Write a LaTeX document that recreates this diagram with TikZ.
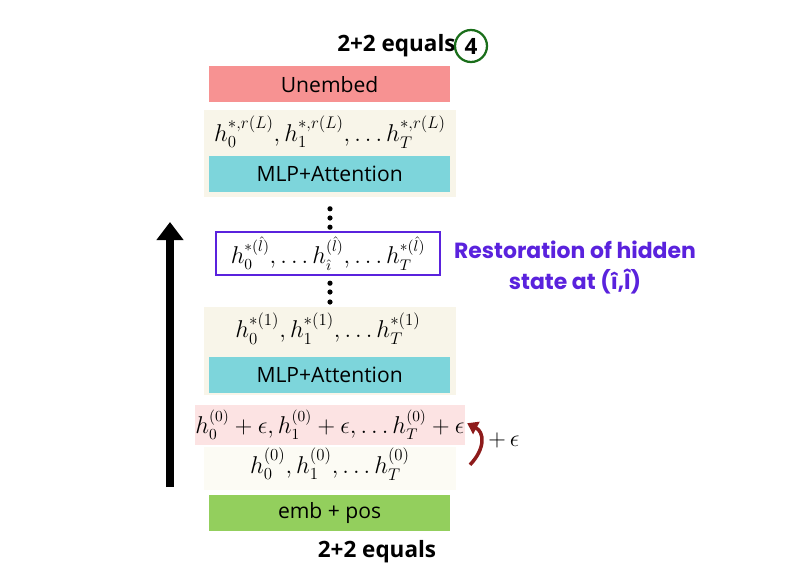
\documentclass[tikz,border=0pt]{standalone}
\usepackage{fontspec}
\usepackage{amsmath}
\setsansfont{Open Sans}
\newfontfamily\heavyfont{Poppins}
\usetikzlibrary{arrows.meta}
\definecolor{unembedred}{HTML}{F79292}
\definecolor{mlpcyan}{HTML}{7DD5DB}
\definecolor{embgreen}{HTML}{93CF5D}
\definecolor{paper}{HTML}{F8F5E9}
\definecolor{paperfaint}{HTML}{FCFBF4}
\definecolor{noisepink}{HTML}{FCE3E3}
\definecolor{restore}{HTML}{5A22DD}
\definecolor{noisered}{HTML}{8E1B1B}
\definecolor{answer}{HTML}{1A6E1A}
\tikzset{
  layer/.style={minimum width=6.025cm,minimum height=0.9cm,inner sep=0pt,
    font=\sffamily\fontsize{15}{18}\selectfont},
  panel/.style={fill=paper,minimum width=6.3cm,inner sep=0pt},
  hidden/.style={inner sep=0pt,font=\fontsize{17}{20}\selectfont},
  prompt/.style={font=\sffamily\bfseries\fontsize{16}{19}\selectfont},
  vdot/.style={circle,fill=black,inner sep=0pt,minimum size=1.3mm},
  flow/.style={-{Triangle[length=4.5mm,width=6.5mm]},line width=5pt}
}
\begin{document}
\begin{tikzpicture}
  \useasboundingbox (0,0) rectangle (20,-14.425);
  % output side
  \node[prompt] (outtext) at (9.91,-1.15) {2+2 equals};
  \node[circle,draw=answer,line width=1.6pt,minimum size=0.8cm,inner sep=0pt,prompt]
    (ans) at (11.775,-1.15) {4};
  \node[layer,fill=unembedred] (unembed) at (8.24,-2.11) {Unembed};

  % last layer
  \node[panel,minimum height=2.175cm] (topL) at (8.25,-3.84) {};
  \node[hidden] (hL) at (8.25,-3.3)
    {$h_0^{*,r(L)},h_1^{*,r(L)},\dots h_T^{*,r(L)}$};
  \node[layer,fill=mlpcyan] (mlpL) at (8.24,-4.35) {MLP+Attention};

  \node[vdot] (d1) at (8.25,-5.22) {};
  \node[vdot] (d2) at (8.25,-5.45) {};
  \node[vdot] (d3) at (8.25,-5.68) {};

  % restored state
  \node[draw=restore,line width=1.4pt,minimum width=5.6cm,minimum height=1.075cm,
    inner sep=0pt,hidden,font=\fontsize{16.2}{19}\selectfont] (hl) at (8.2,-6.34)
    {$h_0^{*(\hat l)},\dots h_{\hat\imath}^{(\hat l)},\dots h_T^{*(\hat l)}$};
  \node[text=restore,align=center,font=\heavyfont\bfseries\fontsize{15.6}{21.5}\selectfont]
    (restoretext) at (14.375,-6.69) {Restoration of hidden\\state at (î,Î)};

  \node[vdot] (d4) at (8.25,-7.08) {};
  \node[vdot] (d5) at (8.25,-7.3) {};
  \node[vdot] (d6) at (8.25,-7.55) {};

  % first layer
  \node[panel,minimum height=2.2cm] (top1) at (8.25,-8.775) {};
  \node[hidden,font=\fontsize{18.3}{22}\selectfont] (h1) at (8.2,-8.22)
    {$h_0^{*(1)},h_1^{*(1)},\dots h_T^{*(1)}$};
  \node[layer,fill=mlpcyan] (mlp1) at (8.24,-9.375) {MLP+Attention};

  % corrupted input
  \node[fill=paperfaint,minimum width=6.3cm,minimum height=1.075cm] (cleanband) at (8.25,-11.71) {};
  \node[fill=noisepink,minimum width=6.65cm,minimum height=1.0cm,inner sep=0pt,hidden,
    font=\fontsize{16}{19}\selectfont] (noisy) at (8.25,-10.625)
    {$h_0^{(0)}+\epsilon,h_1^{(0)}+\epsilon,\dots h_T^{(0)}+\epsilon$};
  \node[hidden,font=\fontsize{18}{22}\selectfont] (h0) at (8.25,-11.6)
    {$h_0^{(0)},h_1^{(0)},\dots h_T^{(0)}$};
  \node[layer,fill=embgreen] (emb) at (8.24,-12.825) {emb + pos};
  \node[prompt] (intext) at (9.425,-13.8) {2+2 equals};

  % noise arrow
  \coordinate (nfrom) at (11.75,-11.62);
  \coordinate (nto) at (11.68,-10.58);
  \draw[-{Triangle[length=2.6mm,width=3.4mm]},line width=2.5pt,draw=noisered]
    (nfrom) .. controls (12.15,-11.2) and (12.1,-10.8) .. (nto);
  \node[hidden,font=\fontsize{19}{22}\selectfont] (eps) at (12.6,-11.0) {$+\,\epsilon$};

  % depth arrow
  \coordinate (base) at (4.25,-12.175);
  \coordinate (tip) at (4.25,-5.55);
  \draw[flow] (base) -- (tip);
\end{tikzpicture}
\end{document}
